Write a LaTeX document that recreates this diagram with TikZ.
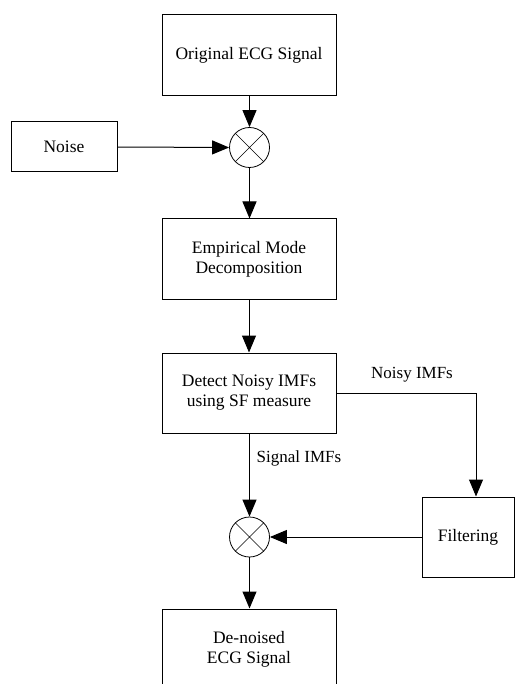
\documentclass[tikz,border=0pt]{standalone}
\usepackage{fontspec}
\setmainfont{Liberation Serif}
\usetikzlibrary{arrows.meta,calc}
\begin{document}
\begin{tikzpicture}[x=1pt,y=-1pt,
  box/.style={draw,line width=1pt,inner sep=0pt,align=center,font=\fontsize{17.5}{20}\selectfont},
  sumnode/.style={draw,circle,line width=0.8pt,minimum size=40pt,inner sep=0pt,
    path picture={\draw[line width=0.6pt] (path picture bounding box.center) +(-14.14,-14.14) -- +(14.14,14.14)
                  +(-14.14,14.14) -- +(14.14,-14.14);}},
  arr/.style={line width=1pt,-{Triangle[length=17pt,width=14pt]}},
  lbl/.style={font=\fontsize{17}{19}\selectfont,inner sep=0pt}]
\useasboundingbox[fill=white] (0,0) rectangle (516,684);
\node[box,minimum width=174pt,minimum height=81pt] (orig) at (249,55.5) {Original ECG Signal};
\node[box,minimum width=106pt,minimum height=50pt] (noise) at (64,147) {Noise};
\node[sumnode] (s1) at (249.5,147.5) {};
\node[box,minimum width=174pt,minimum height=80pt] (emd) at (249,259) {Empirical Mode\\Decomposition};
\node[box,minimum width=174pt,minimum height=80pt] (det) at (249,393) {Detect Noisy IMFs\\using SF measure};
\node[box,minimum width=92pt,minimum height=80pt] (filt) at (468,537) {Filtering};
\node[sumnode] (s2) at (249.5,537) {};
\node[box,minimum width=174pt,minimum height=80pt] (out) at (249,649) {De-noised\\ECG Signal};
\coordinate (nk) at (476,393);
\draw[arr] (orig.south -| s1) -- (s1.north);
\draw[arr] (noise.east) -- (s1.west);
\draw[arr] (s1.south) -- (s1.south |- emd.north);
\draw[arr] (emd) -- (det);
\draw[line width=1pt] (det.east) -- (nk);
\draw[arr] (nk) -- (nk |- filt.north);
\draw[arr] (det.south -| s2) -- (s2.north);
\draw[arr] (filt.west) -- (s2.east);
\draw[arr] (s2.south) -- (s2.south |- out.north);
\node[lbl] (lnoisy) at (412,375) {Noisy IMFs};
\node[lbl] (lsig) at (299,458) {Signal IMFs};
\end{tikzpicture}
\end{document}
